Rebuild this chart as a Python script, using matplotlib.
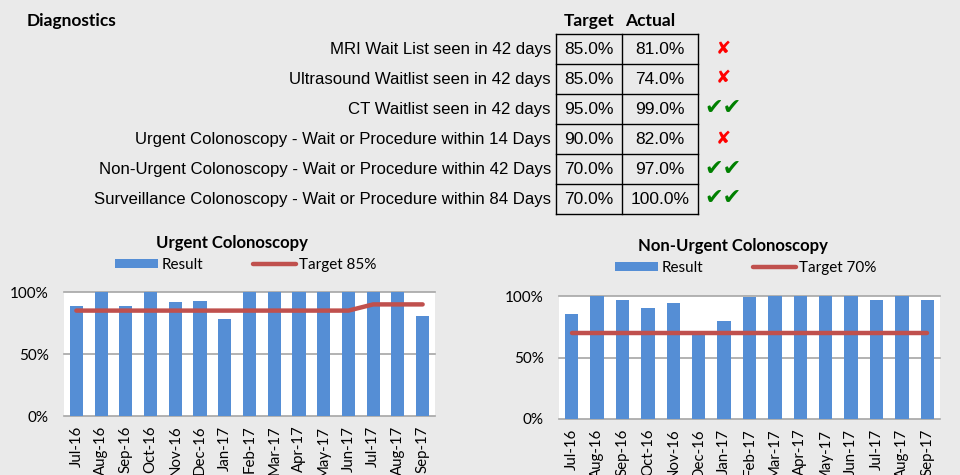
import matplotlib
matplotlib.use("Agg")
import matplotlib.pyplot as plt
from matplotlib.lines import Line2D

# ---------------- data ----------------
diag_labels = [
    "MRI Wait List seen in 42 days",
    "Ultrasound Waitlist seen in 42 days",
    "CT Waitlist seen in 42 days",
    "Urgent Colonoscopy - Wait or Procedure within 14 Days",
    "Non-Urgent Colonoscopy - Wait or Procedure within 42 Days",
    "Surveillance Colonoscopy - Wait or Procedure within 84 Days",
]
diag_target = [85.0, 85.0, 95.0, 90.0, 70.0, 70.0]
diag_actual = [81.0, 74.0, 99.0, 82.0, 97.0, 100.0]

months = ["Jul-16", "Aug-16", "Sep-16", "Oct-16", "Nov-16", "Dec-16", "Jan-17",
          "Feb-17", "Mar-17", "Apr-17", "May-17", "Jun-17", "Jul-17", "Aug-17", "Sep-17"]
urgent_result = [89, 100, 89, 100, 92, 93, 78, 100, 100, 100, 100, 100, 100, 100, 81]
urgent_target = [85, 85, 85, 85, 85, 85, 85, 85, 85, 85, 85, 85, 90, 90, 90]
nonurgent_result = [85, 100, 97, 90, 94, 69, 80, 99, 100, 100, 100, 100, 97, 100, 97]
nonurgent_target = [70] * 15
yticks = [0, 50, 100]
ytick_labels = ["0%", "50%", "100%"]

# ---------------- style ----------------
W, H = 960, 475
BG = "#eaeaea"
BAR = "#558ed5"
RED = "#c0504d"
CAL = "Lato"
ARIAL = "Liberation Sans"

fig = plt.figure(figsize=(W / 100, H / 100), dpi=100, facecolor=BG)


def fx(x):
    return x / W


def fy(y):
    return 1 - y / H


# ---------------- table ----------------
fig.text(fx(27), fy(21), "Diagnostics", family=CAL, weight="bold", fontsize=12.5,
         ha="left", va="center")
col_x = [556, 622, 698]
row_y = [34, 64, 94, 124, 154, 184, 214]
fig.text(fx(589), fy(21), "Target", family=CAL, weight="bold", fontsize=12.5,
         ha="center", va="center")
fig.text(fx(650), fy(21), "Actual", family=CAL, weight="bold", fontsize=12.5,
         ha="center", va="center")
for xc in col_x:
    fig.add_artist(Line2D([fx(xc), fx(xc)], [fy(row_y[0]), fy(row_y[-1])],
                          color="black", lw=1))
for yr in row_y:
    fig.add_artist(Line2D([fx(col_x[0]), fx(col_x[-1])], [fy(yr), fy(yr)],
                          color="black", lw=1))
for i, lab in enumerate(diag_labels):
    yc = (row_y[i] + row_y[i + 1]) / 2 + 0.5
    fig.text(fx(551), fy(yc), lab, family=ARIAL, fontsize=12.1, ha="right", va="center")
    fig.text(fx((col_x[0] + col_x[1]) / 2), fy(yc), f"{diag_target[i]:.1f}%",
             family=ARIAL, fontsize=12.5, ha="center", va="center")
    fig.text(fx((col_x[1] + col_x[2]) / 2), fy(yc), f"{diag_actual[i]:.1f}%",
             family=ARIAL, fontsize=12.5, ha="center", va="center")
    if diag_actual[i] >= diag_target[i]:
        fig.text(fx(723), fy(yc - 1), "\u2714\u2714", family="DejaVu Sans", fontsize=16,
                 color="#008000", ha="center", va="center")
    else:
        fig.text(fx(723), fy(yc - 1), "\u2718", family="DejaVu Sans", fontsize=13,
                 color="#ff0000", ha="center", va="center")


# ---------------- charts ----------------
def chart(x0, x1, ytop, ybot, result, target, title, tlabel, title_x, title_y,
          leg_x, leg_y):
    ax = fig.add_axes([fx(x0), fy(ybot), fx(x1 - x0), (ybot - ytop) / H])
    ax.set_facecolor("white")
    xs = list(range(len(months)))
    b = ax.bar(xs, result, width=0.53, color=BAR, label="Result", zorder=2)
    ln, = ax.plot(xs, target, color=RED, lw=3.2, label=tlabel, zorder=3,
                  solid_capstyle="round")
    ax.set_xlim(-0.5, len(months) - 0.5)
    ax.set_ylim(0, 100)
    ax.set_yticks(yticks)
    ax.set_yticklabels(ytick_labels, family=CAL, fontsize=11)
    ax.set_xticks(xs)
    ax.set_xticklabels(months, rotation=90, family=CAL, fontsize=10.8)
    ax.tick_params(length=0)
    ax.tick_params(axis="x", pad=7)
    ax.tick_params(axis="y", pad=11)
    for s in ax.spines.values():
        s.set_visible(False)
    for yv in yticks:
        ax.axhline(yv, color="#a6a6a6", lw=1.2, zorder=1, clip_on=False)
    fig.text(fx(title_x), fy(title_y), title, family=CAL, weight="bold", fontsize=12,
             ha="center", va="center")
    ax.legend(handles=[b, ln], labels=["Result", tlabel], ncol=2, frameon=False,
              loc="center", bbox_to_anchor=(fx(leg_x), fy(leg_y)),
              bbox_transform=fig.transFigure, prop={"family": CAL, "size": 11},
              handlelength=2.8, handleheight=0.6, handletextpad=0.2,
              columnspacing=3.3, borderaxespad=0)
    return ax


chart(64, 435, 292, 416, urgent_result, urgent_target, "Urgent Colonoscopy",
      "Target 85%", 232, 243, 246, 265)
chart(559, 940, 296, 419, nonurgent_result, nonurgent_target, "Non-Urgent Colonoscopy",
      "Target 70%", 733, 246, 746, 268)

fig.savefig("out.png", dpi=100, facecolor=BG)
